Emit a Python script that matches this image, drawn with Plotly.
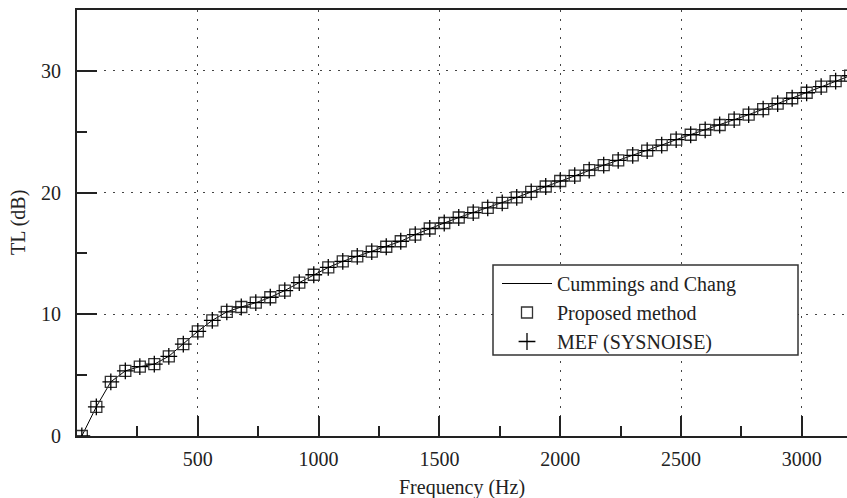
import plotly.graph_objects as go

freq_hz = [20 + 60 * k for k in range(54)]
tl_db = [0.0, 2.4, 4.45, 5.35, 5.7, 5.9, 6.55, 7.55, 8.6, 9.5,
         10.2, 10.6, 10.95, 11.4, 11.95, 12.6, 13.25, 13.85, 14.35, 14.75,
         15.15, 15.55, 16.0, 16.55, 17.05, 17.5, 17.95, 18.35, 18.75, 19.15,
         19.6, 20.05, 20.5, 20.95, 21.4, 21.85, 22.25, 22.65, 23.05, 23.45,
         23.9, 24.35, 24.75, 25.15, 25.55, 26.0, 26.4, 26.85, 27.3, 27.75,
         28.2, 28.7, 29.15, 29.6]
x_ticks = [500, 1000, 1500, 2000, 2500, 3000]
y_ticks = [0, 10, 20, 30]

FONT = "Liberation Serif"

fig = go.Figure()
fig.add_trace(go.Scatter(x=freq_hz, y=tl_db, mode="lines", name="Cummings and Chang",
                         line=dict(color="black", width=1)))
fig.add_trace(go.Scatter(x=freq_hz, y=tl_db, mode="markers", name="Proposed method",
                         marker=dict(symbol="square-open", size=11, color="#333333",
                                     line=dict(width=1.3, color="#333333"))))
fig.add_trace(go.Scatter(x=freq_hz, y=tl_db, mode="markers", name="MEF (SYSNOISE)",
                         marker=dict(symbol="cross-thin", size=12, color="black",
                                     line=dict(width=1.3, color="black"))))

# legend frame
fig.add_shape(type="rect", xref="paper", yref="paper",
              x0=(493 - 77) / 770, x1=(798 - 77) / 770,
              y0=(436 - 355) / 426, y1=(436 - 265) / 426,
              line=dict(color="#333333", width=1.5), fillcolor="white", layer="above")

fig.update_layout(
    width=847, height=498,
    margin=dict(l=77, r=0, t=10, b=62),
    paper_bgcolor="white", plot_bgcolor="white",
    font=dict(family=FONT, size=20, color="#222222"),
    showlegend=True,
    legend=dict(x=(497 - 77) / 770, y=(436 - 264) / 426, xanchor="left", yanchor="top",
                bgcolor="rgba(0,0,0,0)", borderwidth=0, itemwidth=50,
                font=dict(family=FONT, size=20, color="#222222"), tracegroupgap=0),
    annotations=[
        dict(text="Frequency (Hz)", xref="paper", yref="paper", x=0.5, y=0,
             yanchor="middle", yshift=-51, showarrow=False,
             font=dict(family=FONT, size=20, color="#222222")),
        dict(text="TL (dB)", xref="paper", yref="paper", x=0, y=0.5, xanchor="center",
             xshift=-59, textangle=-90, showarrow=False,
             font=dict(family=FONT, size=20, color="#222222")),
    ],
)

fig.update_xaxes(range=[0, 3187], tickvals=x_ticks, ticks="inside", ticklen=20, tickwidth=1.5,
                 tickcolor="#222222", showline=True, linecolor="#222222", linewidth=2,
                 mirror=True, showgrid=True, gridcolor="#444444", gridwidth=1,
                 griddash="2px,7px", zeroline=False, ticklabelstandoff=4,
                 minor=dict(tickvals=[250, 750, 1250, 1750, 2250, 2750], ticks="inside",
                            ticklen=10, tickwidth=1.5, tickcolor="#222222", showgrid=False),
                 tickfont=dict(family=FONT, size=20))
fig.update_yaxes(range=[0, 35], tickvals=y_ticks, ticks="inside", ticklen=20, tickwidth=1.5,
                 tickcolor="#222222", showline=True, linecolor="#222222", linewidth=2,
                 mirror=False, showgrid=True, gridcolor="#444444", gridwidth=1,
                 griddash="2px,7px", zeroline=False, ticklabelstandoff=10,
                 minor=dict(tickvals=[5, 15, 25], ticks="inside",
                            ticklen=10, tickwidth=1.5, tickcolor="#222222", showgrid=False),
                 tickfont=dict(family=FONT, size=20))

fig.write_html("out.html", config={"displayModeBar": False},
               post_script="document.body.style.margin='0px';")
